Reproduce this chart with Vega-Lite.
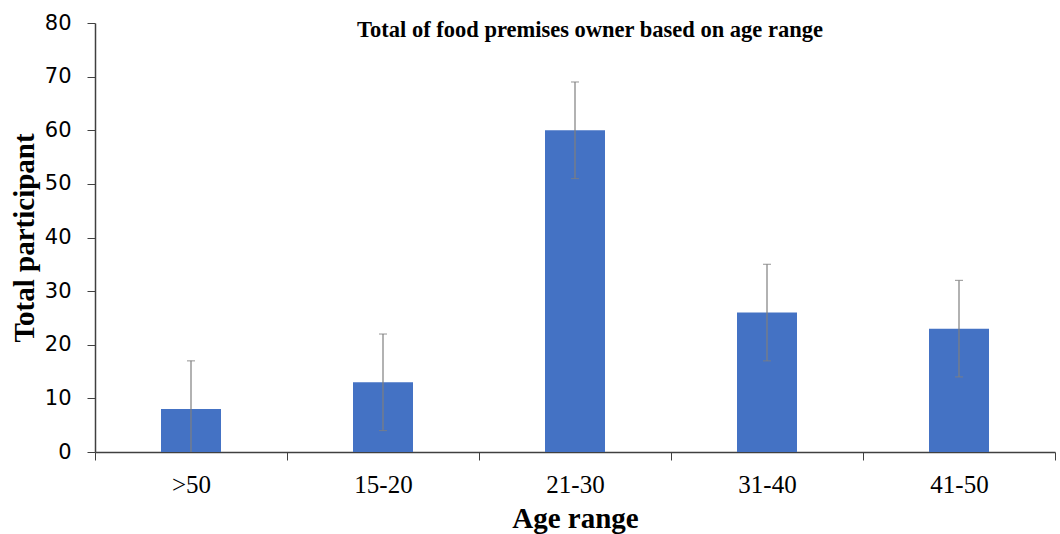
{
  "$schema": "https://vega.github.io/schema/vega-lite/v6.json",
  "autosize": "none",
  "width": 960,
  "height": 429,
  "padding": {"left": 95, "top": 23, "right": 5, "bottom": 82},
  "background": "white",
  "title": {
    "text": "Total of food premises owner based on age range",
    "font": "Liberation Serif",
    "fontSize": 22.5,
    "fontWeight": "bold",
    "color": "#000000",
    "anchor": "middle",
    "dx": 15,
    "offset": -29
  },
  "data": {
    "values": [
      {"age": ">50", "total": 8, "lower": -1, "upper": 17},
      {"age": "15-20", "total": 13, "lower": 4, "upper": 22},
      {"age": "21-30", "total": 60, "lower": 51, "upper": 69},
      {"age": "31-40", "total": 26, "lower": 17, "upper": 35},
      {"age": "41-50", "total": 23, "lower": 14, "upper": 32}
    ]
  },
  "config": {
    "view": {"stroke": null},
    "axis": {"grid": false}
  },
  "encoding": {
    "x": {
      "field": "age",
      "type": "nominal",
      "sort": [">50", "15-20", "21-30", "31-40", "41-50"],
      "scale": {"paddingInner": 0, "paddingOuter": 0},
      "axis": {
        "title": "Age range",
        "titleFont": "Liberation Serif",
        "titleFontSize": 29,
        "titleFontWeight": "bold",
        "titleColor": "#000000",
        "titlePadding": 7,
        "labelFont": "Liberation Serif",
        "labelFontSize": 25,
        "labelColor": "#000000",
        "labelAngle": 0,
        "labelPadding": 12,
        "tickBand": "extent",
        "tickSize": 8,
        "tickColor": "#404040",
        "domainColor": "#404040",
        "domainWidth": 1.5
      }
    }
  },
  "layer": [
    {
      "mark": {"type": "bar", "size": 60, "color": "#4472C4"},
      "encoding": {
        "y": {
          "field": "total",
          "type": "quantitative",
          "scale": {"domain": [0, 80], "nice": false},
          "axis": {
            "title": "Total participant",
            "titleFont": "Liberation Serif",
            "titleFontSize": 29,
            "titleFontWeight": "bold",
            "titleColor": "#000000",
            "titlePadding": 5,
            "values": [0, 10, 20, 30, 40, 50, 60, 70, 80],
            "labelFont": "DejaVu Sans",
            "labelFontSize": 21,
            "labelColor": "#000000",
            "labelPadding": 16,
            "tickSize": 8,
            "tickColor": "#404040",
            "domainColor": "#404040",
            "domainWidth": 1.5
          }
        }
      }
    },
    {
      "mark": {"type": "rule", "color": "#7f7f7f", "strokeWidth": 1.2, "clip": true},
      "encoding": {
        "y": {"field": "lower", "type": "quantitative"},
        "y2": {"field": "upper"}
      }
    },
    {
      "mark": {"type": "tick", "orient": "horizontal", "size": 8, "thickness": 1.2, "color": "#7f7f7f", "clip": true},
      "encoding": {
        "y": {"field": "upper", "type": "quantitative"}
      }
    },
    {
      "mark": {"type": "tick", "orient": "horizontal", "size": 8, "thickness": 1.2, "color": "#7f7f7f", "clip": true},
      "encoding": {
        "y": {"field": "lower", "type": "quantitative"}
      }
    }
  ]
}
